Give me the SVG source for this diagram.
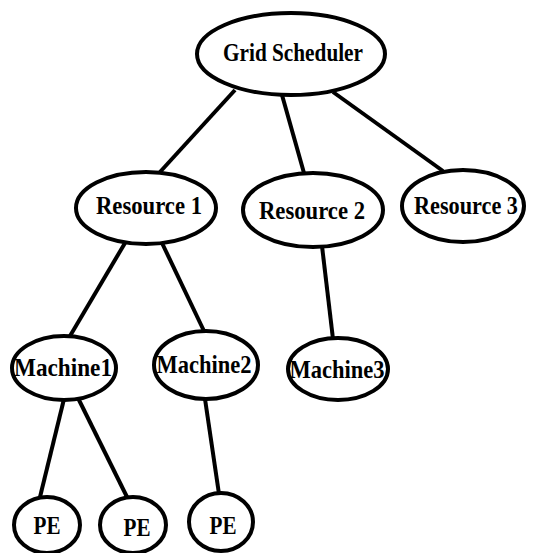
<svg xmlns="http://www.w3.org/2000/svg" width="535" height="553" viewBox="0 0 535 553">
<style>
.n ellipse{fill:#fff;stroke:#000;stroke-width:4}
.n text{font-family:"Liberation Serif","Times New Roman",serif;font-weight:bold;font-size:25px;fill:#000;text-anchor:middle}
#edges line{stroke:#000;stroke-width:4;stroke-linecap:butt}
</style>
<rect width="535" height="553" fill="#fff"/>
<g id="edges">
<line x1="235" y1="90" x2="160" y2="172"/>
<line x1="282" y1="95" x2="304" y2="173"/>
<line x1="333" y1="92" x2="443" y2="171"/>
<line x1="125" y1="243" x2="70" y2="336"/>
<line x1="162" y1="243" x2="204" y2="331"/>
<line x1="322" y1="246" x2="333" y2="339"/>
<line x1="64" y1="399" x2="40" y2="497"/>
<line x1="78" y1="398" x2="127" y2="497"/>
<line x1="205" y1="399" x2="219" y2="494"/>
</g>
<g id="grid-scheduler" class="n"><ellipse cx="291" cy="54" rx="94" ry="41"/><text x="293" y="61" textLength="140" lengthAdjust="spacingAndGlyphs">Grid Scheduler</text></g>
<g id="resource1" class="n"><ellipse cx="146" cy="208" rx="70" ry="36"/><text x="149" y="214" textLength="106" lengthAdjust="spacingAndGlyphs">Resource 1</text></g>
<g id="resource2" class="n"><ellipse cx="313" cy="210" rx="70" ry="37"/><text x="312" y="219" textLength="106" lengthAdjust="spacingAndGlyphs">Resource 2</text></g>
<g id="resource3" class="n"><ellipse cx="463" cy="206" rx="61" ry="36"/><text x="466" y="214" textLength="104" lengthAdjust="spacingAndGlyphs">Resource 3</text></g>
<g id="machine1" class="n"><ellipse cx="64" cy="368" rx="52" ry="32"/><text x="63" y="376" textLength="98" lengthAdjust="spacingAndGlyphs">Machine1</text></g>
<g id="machine2" class="n"><ellipse cx="206" cy="365" rx="52" ry="34"/><text x="204" y="373" textLength="95" lengthAdjust="spacingAndGlyphs">Machine2</text></g>
<g id="machine3" class="n"><ellipse cx="338" cy="369" rx="50" ry="31"/><text x="337" y="378" textLength="95" lengthAdjust="spacingAndGlyphs">Machine3</text></g>
<g id="pe1" class="n"><ellipse cx="47" cy="525" rx="33" ry="28"/><text x="47" y="534" textLength="27" lengthAdjust="spacingAndGlyphs">PE</text></g>
<g id="pe2" class="n"><ellipse cx="133" cy="525" rx="33" ry="28"/><text x="137" y="536" textLength="27" lengthAdjust="spacingAndGlyphs">PE</text></g>
<g id="pe3" class="n"><ellipse cx="221" cy="522" rx="32" ry="29"/><text x="223" y="534" textLength="27" lengthAdjust="spacingAndGlyphs">PE</text></g>
</svg>
